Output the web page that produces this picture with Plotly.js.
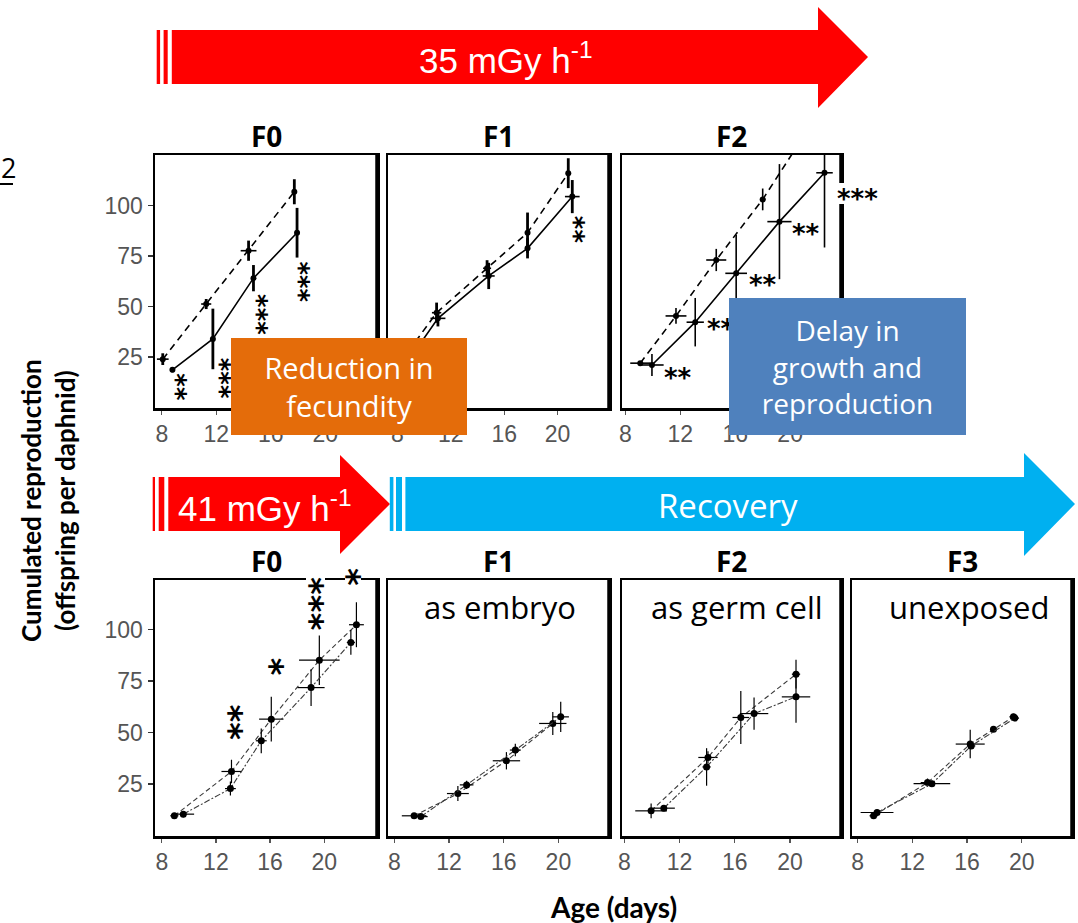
<!DOCTYPE html>
<html><head><meta charset="utf-8">
<script src="https://cdn.plot.ly/plotly-3.0.1.min.js"></script>
<style>html,body{margin:0;padding:0;background:#fff;}#chart{width:1078px;height:923px;}</style>
</head><body><div id="chart"></div>
<script>
// ---------- tick labels ----------
const ageTicks = [8, 12, 16, 20];
const repTicks = [25, 50, 75, 100];

// ---------- top row: 35 mGy/h, control (dashed) vs irradiated (solid) ----------
const top_F0_ctrl_age = [8.07, 11.26, 14.37, 17.73];
const top_F0_ctrl_rep = [23.9, 51.2, 77.6, 106.8];
const top_F0_ctrl_ageErr = [0.43, 0.37, 0.58, 0.15];
const top_F0_ctrl_repErr = [2.9, 2.5, 5.0, 6.2];
const top_F0_irr_age = [8.78, 11.75, 14.73, 17.93];
const top_F0_irr_rep = [18.6, 33.9, 64.0, 86.5];
const top_F0_irr_ageErr = [0.15, 0.15, 0.15, 0.15];
const top_F0_irr_repErr = [1.2, 15.0, 6.5, 12.3];

const top_F1_ctrl_age = [8.3, 10.94, 14.72, 17.75, 20.8];
const top_F1_ctrl_rep = [23.0, 46.9, 68.9, 86.5, 116.0];
const top_F1_ctrl_ageErr = [0.3, 0.35, 0.3, 0.1, 0.1];
const top_F1_ctrl_repErr = [1.5, 5.0, 4.0, 10.0, 7.4];
const top_F1_irr_age = [8.6, 11.04, 14.84, 17.75, 21.1];
const top_F1_irr_rep = [21.0, 44.1, 65.1, 78.8, 104.4];
const top_F1_irr_ageErr = [0.3, 0.56, 0.45, 0.1, 0.55];
const top_F1_irr_repErr = [1.5, 4.0, 6.5, 5.0, 8.2];

const top_F2_ctrl_age = [9.09, 11.69, 14.62, 18.0, 20.9];
const top_F2_ctrl_rep = [21.9, 45.3, 73.0, 103.0, 133.5];
const top_F2_ctrl_ageErr = [0.73, 0.76, 0.73, 0.2, 0.5];
const top_F2_ctrl_repErr = [1.0, 3.9, 5.5, 5.4, 5.0];
const top_F2_irr_age = [9.94, 13.09, 16.07, 19.22, 22.5];
const top_F2_irr_rep = [21.0, 42.2, 66.4, 92.0, 116.2];
const top_F2_irr_ageErr = [0.85, 0.63, 0.79, 0.88, 0.6];
const top_F2_irr_repErr = [5.4, 12.0, 19.0, 28.5, 37.0];

// ---------- bottom row: 41 mGy/h F0, then recovery F1-F3 ----------
const bot_F0_ctrl_age = [8.93, 13.15, 16.09, 19.64, 22.38];
const bot_F0_ctrl_rep = [9.6, 31.1, 56.5, 85.1, 102.3];
const bot_F0_ctrl_ageErr = [0.3, 0.74, 0.9, 1.5, 0.55];
const bot_F0_ctrl_repErr = [1.0, 5.7, 10.9, 12.0, 10.9];
const bot_F0_irr_age = [9.59, 13.07, 15.35, 19.03, 21.97];
const bot_F0_irr_rep = [10.4, 22.8, 46.0, 71.8, 93.7];
const bot_F0_irr_ageErr = [0.8, 0.4, 0.4, 1.0, 0.3];
const bot_F0_irr_repErr = [1.5, 3.4, 6.0, 8.9, 6.0];

const bot_F1_ctrl_age = [9.45, 12.65, 16.2, 19.59];
const bot_F1_ctrl_rep = [9.6, 20.4, 36.3, 54.4];
const bot_F1_ctrl_ageErr = [0.9, 0.8, 1.0, 1.0];
const bot_F1_ctrl_repErr = [1.0, 3.6, 4.2, 5.6];
const bot_F1_irr_age = [9.94, 13.29, 16.85, 20.17];
const bot_F1_irr_rep = [9.2, 24.6, 41.5, 57.6];
const bot_F1_irr_ageErr = [0.5, 0.5, 0.4, 0.6];
const bot_F1_irr_repErr = [1.0, 2.0, 3.0, 7.3];

const bot_F2_ctrl_age = [9.94, 14.06, 16.44, 20.44];
const bot_F2_ctrl_rep = [12.0, 37.9, 57.3, 78.3];
const bot_F2_ctrl_ageErr = [1.15, 0.7, 0.6, 0.3];
const bot_F2_ctrl_repErr = [3.6, 3.0, 12.9, 7.0];
const bot_F2_irr_age = [10.86, 13.96, 17.4, 20.44];
const bot_F2_irr_rep = [13.3, 33.3, 59.2, 67.3];
const bot_F2_irr_ageErr = [0.8, 0.3, 1.03, 1.03];
const bot_F2_irr_repErr = [1.0, 9.1, 7.8, 12.5];

const bot_F3_ctrl_age = [9.17, 13.11, 16.23, 17.93, 19.39];
const bot_F3_ctrl_rep = [9.6, 25.7, 44.4, 51.6, 57.6];
const bot_F3_ctrl_ageErr = [0.3, 0.5, 1.06, 0.2, 0.3];
const bot_F3_ctrl_repErr = [1.5, 2.0, 6.9, 1.0, 1.5];
const bot_F3_irr_age = [9.42, 13.43, 16.3, 19.5];
const bot_F3_irr_rep = [11.2, 25.2, 43.5, 57.0];
const bot_F3_irr_ageErr = [1.2, 1.34, 0.3, 0.3];
const bot_F3_irr_repErr = [1.5, 1.5, 1.5, 1.5];

// ---------- layout helpers ----------
const W = 1078, H = 923;
const PX = p => p / W;
const PY = p => 1 - p / H;
const cols = [[155, 377], [388, 609], [622, 841], [852, 1072]];
const rows = [[155, 408], [580, 836]];

const panels = [
  {row:0, col:0, xr:[7.5, 23.8],  yr:[-0.3, 125], eyT:2.8},
  {row:0, col:1, xr:[7.3, 23.85], yr:[-0.3, 125], eyT:2.8},
  {row:0, col:2, xr:[7.76, 23.7], yr:[-0.3, 125], eyT:1.6},
  {row:1, col:0, xr:[7.5, 23.9],  yr:[-0.2, 124], eyT:1.2},
  {row:1, col:1, xr:[7.54, 23.7], yr:[-0.2, 124], eyT:1.2},
  {row:1, col:2, xr:[7.83, 23.7], yr:[-0.2, 124], eyT:1.2},
  {row:1, col:3, xr:[7.59, 23.67],yr:[-0.2, 124], eyT:1.2}
];

const styles = {
  ctrlTop: {line:{color:'#000', width:1.6, dash:'7px,5px'}, ms:6, exT:1.6},
  irrTop:  {line:{color:'#000', width:1.6}, ms:6, exT:1.6},
  ctrlBot: {line:{color:'#3a3a3a', width:1.1, dash:'5px,3px'}, ms:7, exT:1.2},
  irrBot:  {line:{color:'#3a3a3a', width:1.1, dash:'6px,2px,2px,2px'}, ms:7, exT:1.2}
};

const traces = [];
function addSeries(n, age, rep, ageErr, repErr, st) {
  const s = styles[st], p = panels[n - 1];
  traces.push({
    type:'scatter', mode:'lines+markers',
    x: age, y: rep,
    xaxis: n === 1 ? 'x' : 'x' + n, yaxis: n === 1 ? 'y' : 'y' + n,
    line: s.line, marker:{size:s.ms, color:'#000'},
    error_x:{type:'data', array:ageErr, visible:true, width:0, thickness:s.exT, color:'#000'},
    error_y:{type:'data', array:repErr, visible:true, width:0, thickness:p.eyT, color:'#000'},
    hoverinfo:'skip'
  });
}
addSeries(1, top_F0_ctrl_age, top_F0_ctrl_rep, top_F0_ctrl_ageErr, top_F0_ctrl_repErr, 'ctrlTop');
addSeries(1, top_F0_irr_age, top_F0_irr_rep, top_F0_irr_ageErr, top_F0_irr_repErr, 'irrTop');
addSeries(2, top_F1_ctrl_age, top_F1_ctrl_rep, top_F1_ctrl_ageErr, top_F1_ctrl_repErr, 'ctrlTop');
addSeries(2, top_F1_irr_age, top_F1_irr_rep, top_F1_irr_ageErr, top_F1_irr_repErr, 'irrTop');
addSeries(3, top_F2_ctrl_age, top_F2_ctrl_rep, top_F2_ctrl_ageErr, top_F2_ctrl_repErr, 'ctrlTop');
addSeries(3, top_F2_irr_age, top_F2_irr_rep, top_F2_irr_ageErr, top_F2_irr_repErr, 'irrTop');
addSeries(4, bot_F0_ctrl_age, bot_F0_ctrl_rep, bot_F0_ctrl_ageErr, bot_F0_ctrl_repErr, 'ctrlBot');
addSeries(4, bot_F0_irr_age, bot_F0_irr_rep, bot_F0_irr_ageErr, bot_F0_irr_repErr, 'irrBot');
addSeries(5, bot_F1_ctrl_age, bot_F1_ctrl_rep, bot_F1_ctrl_ageErr, bot_F1_ctrl_repErr, 'ctrlBot');
addSeries(5, bot_F1_irr_age, bot_F1_irr_rep, bot_F1_irr_ageErr, bot_F1_irr_repErr, 'irrBot');
addSeries(6, bot_F2_ctrl_age, bot_F2_ctrl_rep, bot_F2_ctrl_ageErr, bot_F2_ctrl_repErr, 'ctrlBot');
addSeries(6, bot_F2_irr_age, bot_F2_irr_rep, bot_F2_irr_ageErr, bot_F2_irr_repErr, 'irrBot');
addSeries(7, bot_F3_ctrl_age, bot_F3_ctrl_rep, bot_F3_ctrl_ageErr, bot_F3_ctrl_repErr, 'ctrlBot');
addSeries(7, bot_F3_irr_age, bot_F3_irr_rep, bot_F3_irr_ageErr, bot_F3_irr_repErr, 'irrBot');

const layout = {
  width: W, height: H, margin:{l:0, r:0, t:0, b:0},
  paper_bgcolor:'#fff', plot_bgcolor:'#fff', showlegend:false,
  shapes: [], annotations: []
};
const tickFont = {family:'Liberation Sans, Arial, sans-serif', size:23, color:'#555'};

panels.forEach((p, i) => {
  const n = i + 1, sx = n === 1 ? '' : n, c = cols[p.col], r = rows[p.row];
  layout['xaxis' + sx] = {
    domain:[PX(c[0]), PX(c[1])], range:p.xr, anchor: 'y' + sx,
    tickvals: ageTicks, ticktext: ageTicks.map(String), ticks:'outside', ticklen:4, tickwidth:1.2, tickcolor:'#555',
    showline:true, mirror:true, linecolor:'#000', linewidth:2.5, showgrid:false, zeroline:false,
    tickfont: tickFont, fixedrange:true
  };
  const left = p.col === 0;
  layout['yaxis' + sx] = {
    domain:[PY(r[1]), PY(r[0])], range:p.yr, anchor: 'x' + sx,
    tickvals: repTicks, ticktext: repTicks.map(String), ticks: left ? 'outside' : '', ticklen:5, tickwidth:1.2, tickcolor:'#333',
    showticklabels: left,
    showline:true, mirror:true, linecolor:'#000', linewidth:2.5, showgrid:false, zeroline:false,
    tickfont: tickFont, fixedrange:true
  };
  layout.shapes.push({type:'line', xref:'paper', yref:'paper', x0:PX(c[1] + 0.5), x1:PX(c[1] + 0.5), y0:PY(r[1] + 1), y1:PY(r[0] - 1), line:{color:'#000', width:4.5}, layer:'above'});
});

// ---------- arrows ----------
function pathOf(pts) { return 'M' + pts.map(q => PX(q[0]) + ',' + PY(q[1])).join(' L') + ' Z'; }
function arrow(x0, x1, tip, yt, yb, ht, hb, color) {
  const ym = (yt + yb) / 2;
  layout.shapes.push({type:'path', xref:'paper', yref:'paper', layer:'above', fillcolor:color, line:{width:0},
    path: pathOf([[x0, yt], [x1, yt], [x1, ht], [tip, ym], [x1, hb], [x1, yb], [x0, yb]])});
}
function stripe(x0, x1, yt, yb, color) {
  layout.shapes.push({type:'rect', xref:'paper', yref:'paper', layer:'above', fillcolor:color, line:{width:0},
    x0:PX(x0), x1:PX(x1), y0:PY(yb), y1:PY(yt)});
}
const RED = '#FF0000', CYAN = '#00B0F0';
arrow(171.8, 818, 868, 30, 84, 7, 108, RED);
stripe(156.7, 160.1, 30, 84, RED); stripe(163.6, 167.7, 30, 84, RED);
arrow(168.3, 340, 390, 477, 531, 455, 554, RED);
stripe(152.7, 155, 477, 531, RED); stripe(158.7, 164.3, 477, 531, RED);
arrow(405.4, 1024, 1075, 477, 531, 453, 556, CYAN);
stripe(389.8, 393.4, 477, 531, CYAN); stripe(396, 402, 477, 531, CYAN);

// white gaps in frames behind asterisks
stripe(835, 848, 183, 204, '#fff');
stripe(306, 325, 575, 586, '#fff');
stripe(345, 361, 575, 586, '#fff');

// underline for panel label
layout.shapes.push({type:'line', xref:'paper', yref:'paper', layer:'above', x0:PX(0), x1:PX(13), y0:PY(184), y1:PY(184), line:{color:'#000', width:2}});

// ---------- texts ----------
const A = layout.annotations;
function txt(px, py, text, font, extra) {
  A.push(Object.assign({xref:'paper', yref:'paper', x:PX(px), y:PY(py), text:text, showarrow:false, font:font, xanchor:'center', yanchor:'middle'}, extra || {}));
}
const arrowFont = {family:'Liberation Sans, Arial, sans-serif', size:35, color:'#fff'};
txt(506, 58, '35 mGy h<sup>-1</sup>', arrowFont);
txt(265, 506, '41 mGy h<sup>-1</sup>', arrowFont);
txt(728, 505, 'Recovery', {family:'Open Sans', size:33, color:'#fff'});

const titleFont = {family:'Open Sans', size:28, color:'#000'};
['F0', 'F1', 'F2'].forEach((t, i) => txt((cols[i][0] + cols[i][1]) / 2, 136, '<b>' + t + '</b>', titleFont));
['F0', 'F1', 'F2', 'F3'].forEach((t, i) => txt((cols[i][0] + cols[i][1]) / 2, 561, '<b>' + t + '</b>', titleFont));

const inFont = {family:'Open Sans', size:31, color:'#000'};
txt(500, 607, 'as embryo', inFont);
txt(737, 607, 'as germ cell', inFont);
txt(969, 607, 'unexposed', inFont);

txt(0, 168, '2', {family:'Open Sans', size:27, color:'#000'}, {xanchor:'left', xshift:-1});

txt(48, 501, '<b>Cumulated reproduction</b><br><b>(offspring per daphnid)</b>', {family:'Lato', size:26, color:'#000'}, {textangle:-90});
txt(613, 907, '<b>Age (days)</b>', {family:'Lato', size:28, color:'#000'});

// ---------- significance asterisks: [x px, centre y px, count, direction] ----------
// vertical stacks are a row of asterisks turned by 90 degrees
function starGroup(list, size) {
  list.forEach(s => {
    const text = '<b>' + '*'.repeat(s[2]) + '</b>';
    const font = {family:'DejaVu Sans', size:size, color:'#000'};
    if (s[3] === 'v') txt(s[0], s[1], text, font, {textangle:90, xshift:-0.12 * size});
    else txt(s[0], s[1], text, font, {yshift:-0.2 * size});
  });
}
starGroup([
  [178.3, 387.5, 2, 'v'],
  [222.7, 378.3, 3, 'v'],
  [260, 315, 3, 'v'],
  [301.7, 282, 3, 'v'],
  [577.3, 230, 2, 'v'],
  [678.4, 373.3, 2, 'h'],
  [720.7, 323.3, 2, 'h'],
  [763, 280, 2, 'h'],
  [806.3, 229, 2, 'h'],
  [857.6, 193.3, 3, 'h']
], 26);
starGroup([
  [235, 722.5, 2, 'v'],
  [275, 666.7, 1, 'v'],
  [315, 604, 3, 'v'],
  [352.7, 576.7, 1, 'v']
], 34);

// ---------- overlay boxes ----------
A.push({xref:'paper', yref:'paper', x:PX(231), y:PY(338), xanchor:'left', yanchor:'top', width:236, height:97,
  bgcolor:'#E46C0A', borderpad:0, borderwidth:0, showarrow:false, align:'center', valign:'middle',
  text:'Reduction in<br>fecundity', font:{family:'Open Sans', size:29, color:'#fff'}});
A.push({xref:'paper', yref:'paper', x:PX(729), y:PY(298), xanchor:'left', yanchor:'top', width:237, height:137,
  bgcolor:'#4F81BD', borderpad:0, borderwidth:0, showarrow:false, align:'center', valign:'middle',
  text:'Delay in<br>growth and<br>reproduction', font:{family:'Open Sans', size:28, color:'#fff'}});

Plotly.newPlot('chart', traces, layout, {displayModeBar:false, staticPlot:true});
</script></body></html>
